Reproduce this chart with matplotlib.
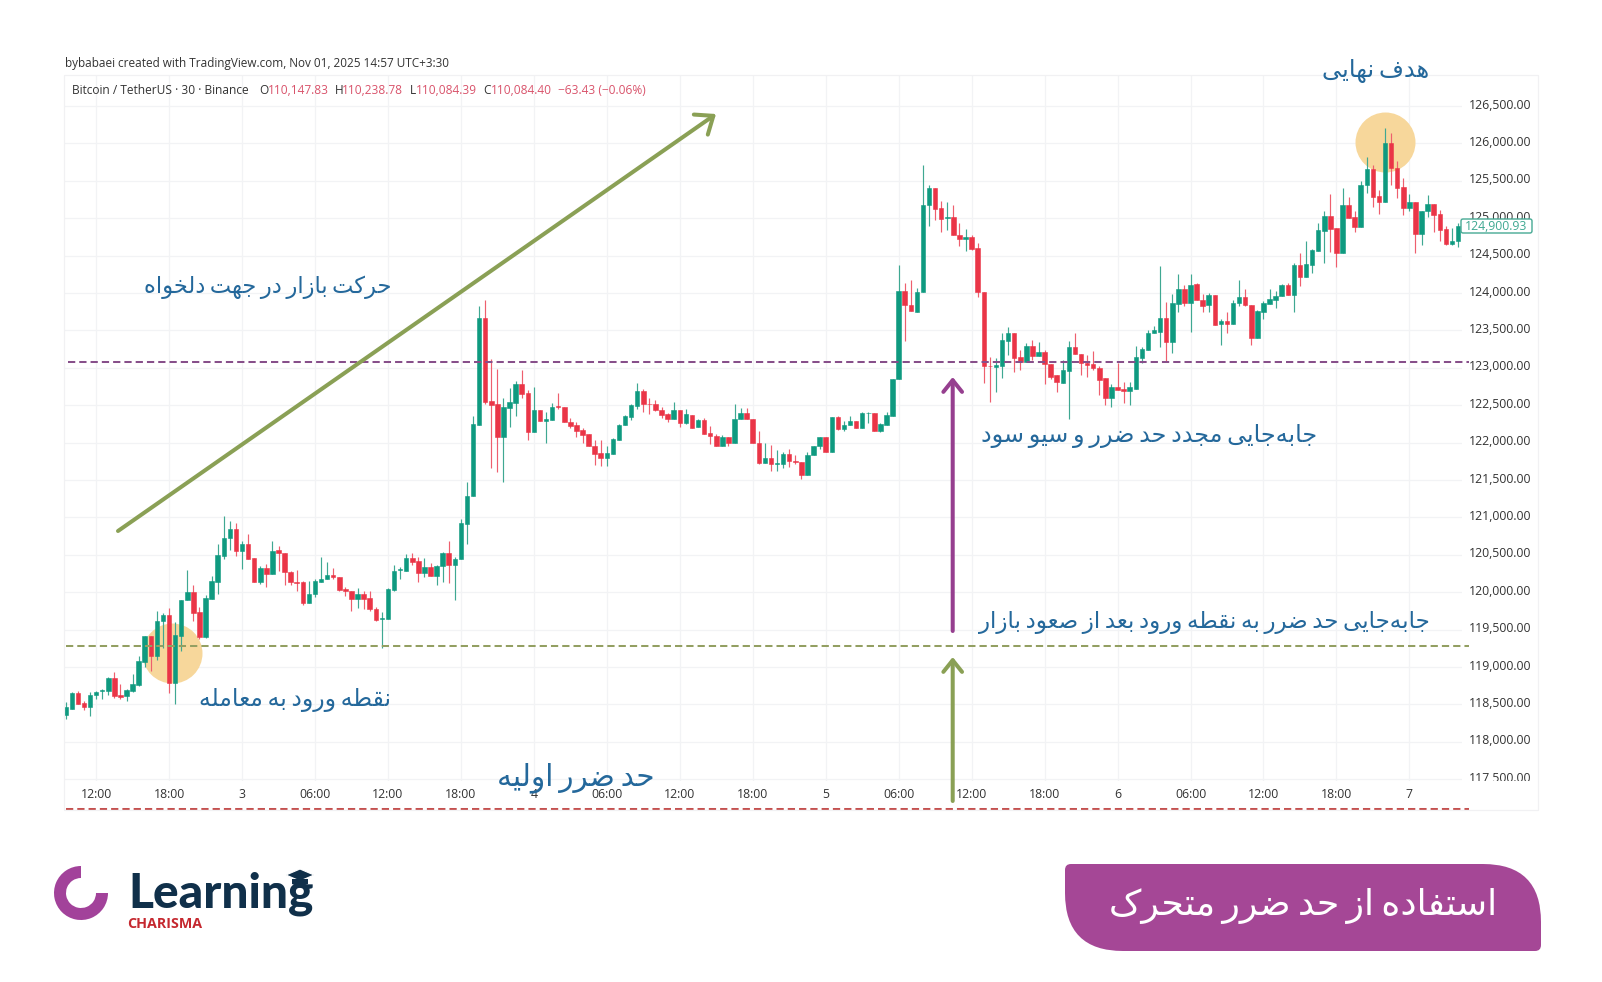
import numpy as np
import matplotlib
matplotlib.use("Agg")
import matplotlib.pyplot as plt
from matplotlib.patches import Rectangle, Wedge, Polygon, PathPatch, FancyBboxPatch
from matplotlib.path import Path
from matplotlib.transforms import ScaledTranslation

W, H = 1602, 982

# 30 min candles
opens = [118360,118440,118650,118520,118470,118630,118680,118680,118850,118620,
         118610,118680,118760,119070,119410,119150,119610,119700,118790,119420,
         119900,120000,119730,119400,119910,120140,120490,120720,120840,120550,
         120650,120460,120140,120320,120250,120560,120530,120270,120140,120130,
         119860,119980,120140,120170,120230,120200,120040,120010,119910,119970,
         119920,119770,119640,119640,120030,120300,120290,120460,120420,120260,
         120340,120210,120350,120530,120360,120440,120910,121290,122240,123670,
         122550,122510,122070,122460,122530,122780,122660,122140,122440,122290,
         122300,122490,122480,122280,122240,122170,122110,121950,121860,121800,
         121850,122040,122230,122340,122490,122690,122520,122510,122430,122380,
         122310,122430,122260,122370,122210,122300,122130,122090,121960,122070,
         122000,122320,122390,122320,121990,121730,121790,121720,121720,121850,
         121750,121740,121570,121830,121950,122070,121880,122340,122180,122230,
         122290,122200,122390,122400,122150,122240,122360,122850,124030,123840,
         123750,124010,125170,125400,125130,125000,125010,124780,124720,124750,
         124600,124020,123030,123010,123020,123360,123460,123140,123080,123290,
         123160,123210,123050,122900,122800,122960,123280,123190,123060,123050,
         123000,122860,122590,122750,122710,122690,122720,123130,123240,123460,
         123480,123670,123350,123850,124050,123870,124120,123910,123840,123970,
         123590,123620,123580,123860,123950,123840,123400,123750,123850,123910,
         123960,124110,123970,124380,124210,124380,124560,124830,125030,124870,
         124530,125170,125010,124880,125440,125660,125300,125210,126010,125670,
         125420,125140,125210,124790,125100,125190,125050,124850,124650,124690]
highs = [118530,118670,118680,118550,118660,118680,118700,118860,118930,118770,
         118710,118900,119150,119410,119410,119750,119720,119790,119600,119900,
         120300,120100,119800,119960,120210,120650,121020,120950,120920,120680,
         120780,120460,120350,120380,120680,120620,120530,120290,120300,120150,
         120150,120170,120470,120410,120320,120200,120070,120010,120060,120020,
         120010,119800,119730,120060,120360,120340,120510,120520,120470,120460,
         120390,120370,120540,120690,120470,120980,121470,122360,123830,123900,
         123120,122990,122590,122730,122820,122970,122700,122740,122440,122410,
         122530,122660,122480,122330,122280,122190,122110,122040,122040,121960,
         122060,122250,122370,122520,122800,122720,122600,122570,122470,122400,
         122540,122430,122450,122370,122320,122330,122220,122120,122100,122070,
         122510,122460,122460,122320,122150,122000,121970,121900,121870,121910,
         121830,121740,121870,121950,122080,122070,122340,122350,122290,122360,
         122290,122410,122410,122400,122260,122410,122850,124370,124130,124180,
         124070,125710,125440,125400,125230,125220,125180,124940,124850,124770,
         124670,124020,123140,123130,123460,123550,123460,123240,123330,123370,
         123340,123240,123050,122900,123110,123360,123470,123190,123170,123220,
         123020,122860,122790,123060,122810,122810,123290,123280,123500,123560,
         124360,123880,123990,124250,124110,124250,124130,123990,124000,123970,
         123650,123750,123910,124170,124050,123840,123770,123890,124060,124030,
         124120,124140,124400,124530,124700,124590,124930,125090,125330,124870,
         125410,125280,125100,125500,125820,125710,125380,126200,126140,125770,
         125540,125330,125210,125100,125310,125190,125110,124890,124870,124930]
lows = [118300,118440,118500,118430,118350,118570,118570,118620,118590,118570,
        118540,118670,118750,119000,118940,119100,119260,118650,118510,119210,
        119900,119620,119370,119390,119910,119980,120440,120560,120490,120310,
        120450,120140,120110,120070,120250,120280,120090,120100,120010,119830,
        119860,119930,120140,120170,120180,120010,119950,119750,119790,119770,
        119750,119610,119260,119640,120020,120170,120290,120370,120130,120200,
        120210,120100,120130,120120,119890,120440,120640,121290,122240,122520,
        121660,121610,121470,122210,122360,122590,122040,122140,122290,122000,
        122300,122450,122270,122200,122070,121990,121950,121700,121690,121690,
        121850,122040,122230,122300,122450,122410,122380,122420,122330,122280,
        122310,122210,122250,122200,122210,122110,121980,121960,121960,121950,
        122000,122320,122310,121990,121720,121730,121620,121620,121660,121680,
        121720,121520,121570,121830,121910,121880,121880,122170,122150,122230,
        122200,122200,122260,122150,122140,122240,122360,122850,123360,123760,
        123750,124010,124890,124970,124810,124840,124770,124630,124560,124580,
        123950,122800,122540,122670,122860,123170,122950,122970,123080,123100,
        123160,122780,122850,122680,122800,122320,123180,122900,122880,122970,
        122640,122500,122480,122700,122530,122500,122720,123060,123240,123460,
        123280,123080,123200,123740,123820,123480,123900,123750,123750,123570,
        123310,123460,123580,123830,123820,123300,123400,123650,123850,123800,
        123960,123970,123740,124090,124210,124270,124560,124400,124550,124350,
        124530,125000,124810,124880,125340,125150,125060,125210,125440,125270,
        125040,125100,124530,124640,125020,124810,124700,124640,124640,124610]
closes = [118460,118650,118510,118470,118630,118670,118690,118850,118610,118600,
          118690,118770,119080,119410,119150,119620,119700,118790,119430,119900,
          120000,119720,119400,119920,120150,120500,120730,120840,120550,120650,
          120450,120140,120320,120250,120550,120520,120270,120130,120120,119860,
          119980,120150,120180,120230,120200,120030,120010,119910,119970,119910,
          119770,119630,119650,120040,120280,120310,120460,120410,120260,120340,
          120210,120350,120530,120360,120450,120920,121290,122250,123670,122540,
          122500,122070,122480,122540,122780,122650,122140,122440,122290,122310,
          122480,122470,122270,122220,122160,122100,121950,121850,121800,121860,
          122050,122240,122350,122500,122690,122520,122510,122430,122370,122320,
          122430,122260,122380,122200,122300,122120,122090,121960,122070,122000,
          122320,122390,122320,121990,121730,121790,121710,121730,121850,121750,
          121740,121570,121830,121950,122070,121880,122340,122180,122240,122290,
          122200,122390,122400,122150,122250,122370,122850,124030,123840,123760,
          124010,125170,125400,125120,124990,125010,124770,124720,124750,124590,
          124010,123020,123020,123040,123370,123460,123130,123080,123290,123160,
          123210,123050,122880,122810,122970,123280,123180,123060,123040,123000,
          122840,122590,122750,122700,122690,122740,123140,123250,123460,123500,
          123670,123350,123860,124050,123860,124110,123910,123830,123970,123570,
          123620,123590,123870,123950,123840,123400,123760,123860,123920,123960,
          124110,123970,124380,124210,124390,124570,124840,125030,124860,124530,
          125170,125000,124880,125450,125660,125290,125210,126010,125670,125410,
          125140,125210,124790,125100,125190,125040,124840,124650,124690,124900]

time_ticks = [5, 17, 29, 41, 53, 65, 77, 89, 101, 113, 125, 137, 149, 161, 173, 185, 197, 209, 221]
time_labels = ["12:00", "18:00", "3", "06:00", "12:00", "18:00", "4", "06:00", "12:00", "18:00",
               "5", "06:00", "12:00", "18:00", "6", "06:00", "12:00", "18:00", "7"]
price_ticks = list(range(117500, 127000, 500))

stop_initial = 117100
stop_entry = 119285
stop_second = 123078
entry_spot = (17.5, 119187)
target_spot = (217, 126019)
last_price = "124,900.93"

legend_parts = [("O", "#333333", 259), ("110,147.83", "#d9536b", 268),
                ("H", "#333333", 335), ("110,238.78", "#d9536b", 342),
                ("L", "#333333", 410), ("110,084.39", "#d9536b", 416),
                ("C", "#333333", 483), ("110,084.40", "#d9536b", 491),
                ("−63.43 (−0.06%)", "#d9536b", 558)]

# no raqm here, so persian letters have to be joined by hand
FORMS = {
    "ا": (0xFE8D, 0xFE8E), "د": (0xFEA9, 0xFEAA), "ر": (0xFEAD, 0xFEAE),
    "ز": (0xFEAF, 0xFEB0), "و": (0xFEED, 0xFEEE),
    "ب": (0xFE8F, 0xFE90, 0xFE91, 0xFE92), "ت": (0xFE95, 0xFE96, 0xFE97, 0xFE98),
    "ج": (0xFE9D, 0xFE9E, 0xFE9F, 0xFEA0), "ح": (0xFEA1, 0xFEA2, 0xFEA3, 0xFEA4),
    "خ": (0xFEA5, 0xFEA6, 0xFEA7, 0xFEA8), "س": (0xFEB1, 0xFEB2, 0xFEB3, 0xFEB4),
    "ص": (0xFEB9, 0xFEBA, 0xFEBB, 0xFEBC), "ض": (0xFEBD, 0xFEBE, 0xFEBF, 0xFEC0),
    "ط": (0xFEC1, 0xFEC2, 0xFEC3, 0xFEC4), "ع": (0xFEC9, 0xFECA, 0xFECB, 0xFECC),
    "ف": (0xFED1, 0xFED2, 0xFED3, 0xFED4), "ق": (0xFED5, 0xFED6, 0xFED7, 0xFED8),
    "ک": (0xFB8E, 0xFB8F, 0xFB90, 0xFB91), "ل": (0xFEDD, 0xFEDE, 0xFEDF, 0xFEE0),
    "م": (0xFEE1, 0xFEE2, 0xFEE3, 0xFEE4), "ن": (0xFEE5, 0xFEE6, 0xFEE7, 0xFEE8),
    "ه": (0xFEE9, 0xFEEA, 0xFEEB, 0xFEEC), "ی": (0xFBFC, 0xFBFD, 0xFBFE, 0xFBFF),
}


def shape(s):
    out = []
    for k, ch in enumerate(s):
        if ch == "\u200c":
            continue
        if ch == " ":
            out.append("\u2009")  # the original font has very tight word gaps
            continue
        prev = s[k - 1] if k > 0 else " "
        nxt = s[k + 1] if k + 1 < len(s) else " "
        from_right = prev in FORMS and len(FORMS[prev]) == 4
        to_left = len(FORMS[ch]) == 4 and nxt in FORMS
        if from_right and to_left:
            form = FORMS[ch][3]
        elif from_right:
            form = FORMS[ch][1]
        elif to_left:
            form = FORMS[ch][2]
        else:
            form = FORMS[ch][0]
        out.append(chr(form))
    return "".join(reversed(out))


def px_x(x):
    return (x - 65.7) / 6.08


def px_price(y):
    return 126500 - (y - 106) / 0.0748


fig = plt.figure(figsize=(W / 100, H / 100), dpi=100, facecolor="white")
plt.rcParams["font.family"] = ["Open Sans", "DejaVu Sans"]

ax = fig.add_axes([64 / W, 1 - 781 / H, (1462 - 64) / W, (781 - 75) / H], facecolor="none", zorder=2)
ov = fig.add_axes([0, 0, 1, 1], facecolor="none", zorder=3)
ov.set_xlim(0, W)
ov.set_ylim(H, 0)
ov.axis("off")

ax.set_xlim(px_x(64), px_x(1462))
ax.set_ylim(px_price(781), px_price(75))
for s in ax.spines.values():
    s.set_visible(False)
ax.yaxis.tick_right()
ax.set_yticks(price_ticks)
ax.set_yticklabels([f"{p:,.2f}" for p in price_ticks])
ax.set_xticks(time_ticks)
ax.set_xticklabels(time_labels)
ax.tick_params(axis="y", length=0, pad=5, labelsize=8.8, labelcolor="#333333")
ax.tick_params(axis="x", length=0, pad=5, labelsize=8.8, labelcolor="#333333")
up = ScaledTranslation(0, 2.5 / 100, fig.dpi_scale_trans)
for lab in ax.get_yticklabels():
    lab.set_transform(lab.get_transform() + up)
ax.grid(color="#f2f3f5", lw=0.9)
ax.set_axisbelow(True)

# highlight circles sit under the candles
ax.scatter(*entry_spot, s=1866, color="#f7d79b", lw=0, zorder=1.5)
ax.scatter(*target_spot, s=1866, color="#f7d79b", lw=0, zorder=1.5)

idx = np.arange(len(opens))
o, h, l, c = map(np.array, (opens, highs, lows, closes))
cols = np.where(c >= o, "#0f9a80", "#ea3547")
wick_cols = np.where(c >= o, "#3fa892", "#ee5f6e")
ax.vlines(idx, l, h, colors=wick_cols, lw=0.85, zorder=2)
ax.bar(idx, np.abs(c - o), bottom=np.minimum(o, c), width=0.74, color=cols, edgecolor=cols, lw=0.4, zorder=3)

dash = (0, (3.6, 2.0))
ax.hlines(stop_entry, px_x(66), px_x(1469), colors="#939f62", lw=1.45, linestyles=dash, clip_on=False, zorder=4)
ax.hlines(stop_second, px_x(68), px_x(1469), colors="#874f8a", lw=1.45, linestyles=dash, clip_on=False, zorder=4)
ax.hlines(stop_initial, px_x(66), px_x(1469), colors="#c4504f", lw=1.45, linestyles=dash, clip_on=False, zorder=4)

# panel frame and axis leftovers
ov.add_patch(Rectangle((64, 75), 1474, 735, fill=False, ec="#f1f1f3", lw=0.9, zorder=0))
ov.add_patch(Rectangle((1465, 781), 72, 9, fc="white", ec="none", zorder=1))
ov.add_patch(FancyBboxPatch((1461, 219), 71, 14, boxstyle="round,pad=0,rounding_size=2", fc="white", ec="#46a994", lw=1.0, zorder=2))
ov.text(1527, 226, last_price, color="#3fa892", fontsize=8.8, ha="right", va="center", zorder=3)

ov.text(64.6, 63, "bybabaei created with TradingView.com, Nov 01, 2025 14:57 UTC+3:30", color="#333333", fontsize=8.47, va="center")
ov.text(72, 90, "Bitcoin / TetherUS · 30 · Binance", color="#333333", fontsize=8.56, va="center")
for txt, col, x in legend_parts:
    ov.text(x, 90, txt, color=col, fontsize=8.56, va="center")


def arrow(x0, y0, x1, y1, col, head):
    ov.annotate("", xy=(x1, y1), xytext=(x0, y0),
                arrowprops=dict(arrowstyle=f"->,head_length={head},head_width={head * 0.8}",
                                color=col, lw=2.9, shrinkA=0, shrinkB=0, mutation_scale=20))


arrow(118, 531, 716, 114, "#8aa055", 0.55)
arrow(952.7, 631, 952.7, 377, "#963f8f", 0.42)
arrow(952.7, 801, 952.7, 657, "#8aa055", 0.42)


def fa_text(s, x0, x1, y, col="#24689b", weight="normal"):
    t = ov.text((x0 + x1) / 2, y, shape(s), color=col, family="DejaVu Sans", fontsize=14, ha="center", va="center", weight=weight)
    w = t.get_window_extent(fig.canvas.get_renderer()).width
    t.set_fontsize(14 * (x1 - x0) / w)
    return t


fa_text("هدف نهایی", 1322, 1430, 71)
fa_text("حرکت بازار در جهت دلخواه", 143, 393, 287)
fa_text("نقطه ورود به معامله", 198, 392, 700)
fa_text("جابه‌جایی مجدد حد ضرر و سیو سود", 980, 1318, 436)
fa_text("جابه‌جایی حد ضرر به نقطه ورود بعد از صعود بازار", 978, 1431, 622)
fa_text("حد ضرر اولیه", 496, 655, 778)

# title badge, only two corners are really round
x0, x1, y0, y1 = 1065, 1541, 864, 951
rb, rs = 58, 6
verts = [(x0 + rs, y0), (x1 - rb, y0), (x1, y0), (x1, y0 + rb), (x1, y1 - rs), (x1, y1), (x1 - rs, y1),
         (x0 + rb, y1), (x0, y1), (x0, y1 - rb), (x0, y0 + rs), (x0, y0), (x0 + rs, y0)]
codes = [Path.MOVETO, Path.LINETO, Path.CURVE3, Path.CURVE3, Path.LINETO, Path.CURVE3, Path.CURVE3,
         Path.LINETO, Path.CURVE3, Path.CURVE3, Path.LINETO, Path.CURVE3, Path.CURVE3]
ov.add_patch(PathPatch(Path(verts, codes), fc="#a54796", ec="none"))
fa_text("استفاده از حد ضرر متحرک", 1107, 1499, 906, col="white")

# logo
ov.add_patch(Wedge((81, 893), 27, 0, 270, width=12, fc="#a2429a", ec="none"))
t = ov.text(128, 907, "Learning", color="#10304a", family="Lato", weight="black", fontsize=30, ha="left", va="baseline")
t.set_fontsize(30 * 185 / t.get_window_extent(fig.canvas.get_renderer()).width)
t = ov.text(127, 924, "CHARISMA", color="#c5282f", family="Open Sans", weight="bold", fontsize=10, ha="left", va="center")
t.set_fontsize(10 * 75 / t.get_window_extent(fig.canvas.get_renderer()).width)
ov.add_patch(Polygon([(286, 875), (300, 869), (314, 875), (300, 881)], fc="#10304a", ec="white", lw=0.8, zorder=5))
ov.add_patch(Polygon([(292, 879), (308, 879), (308, 884), (300, 887), (292, 884)], fc="#10304a", ec="none", zorder=5))

fig.savefig("out.png", dpi=100, facecolor="white")
